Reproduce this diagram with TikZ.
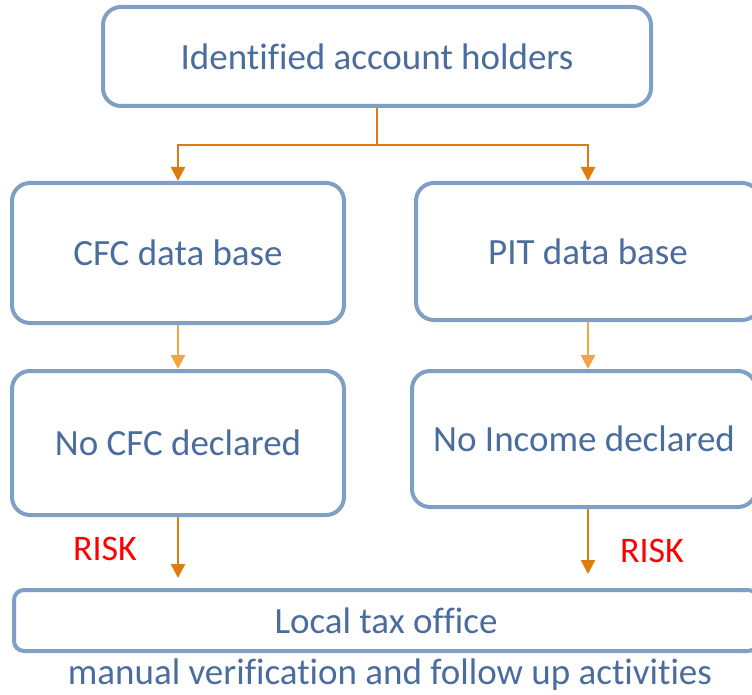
\documentclass[tikz,border=0pt]{standalone}
\usepackage{fontspec}
\setmainfont{Carlito}[Ligatures=NoCommon]
\usetikzlibrary{arrows.meta}
\definecolor{boxline}{HTML}{7F9FC5}
\definecolor{boxtext}{HTML}{4A6D9E}
\definecolor{darkor}{HTML}{E07B10}
\definecolor{lightor}{HTML}{F2A545}
\begin{document}
\begin{tikzpicture}[x=1pt,y=-1pt,
  box/.style={draw=boxline, line width=4pt, rounded corners=18pt, fill=white,
    text=boxtext, font=\fontsize{37}{44}\selectfont, inner sep=0pt},
  darr/.style={draw=darkor, line width=2.5pt, -{Triangle[length=14pt,width=14pt]}},
  larr/.style={draw=lightor, line width=2.5pt, -{Triangle[length=14pt,width=14pt]}},
  risk/.style={text=red, font=\fontsize{36}{43}\selectfont}]
\useasboundingbox (0,0) rectangle (752,695);
\clip (0,0) rectangle (752,695);
\node[box, minimum width=548pt, minimum height=99pt] (top) at (377,56.5) {Identified account holders};
\node[box, minimum width=332pt, minimum height=140pt] (cfc) at (178,253) {CFC data base};
\node[box, minimum width=344pt, minimum height=137pt] (pit) at (588,251.5) {PIT data base};
\node[box, minimum width=332pt, minimum height=144pt] (nocfc) at (178,443) {No CFC declared};
\node[box, minimum width=344pt, minimum height=136pt] (noinc) at (584,439) {No Income declared};
\node[box, rounded corners=10pt, minimum width=744pt, minimum height=61pt] (local) at (386,620.5) {Local tax office};
\node[text=boxtext, font=\fontsize{37}{44}\selectfont] (manual) at (390,675) {manual verification and follow up activities};
\node[risk] (risk1) at (105,549) {RISK};
\node[risk] (risk2) at (652,551) {RISK};
\coordinate (split) at (377,145);
\draw[darkor, line width=2.5pt] (top.south) -- (split);
\draw[darr] (split) -| (cfc.north);
\draw[darr] (split) -| (pit.north);
\draw[larr] (cfc.south) -- (nocfc.north -| cfc.south);
\draw[larr] (pit.south) -- (noinc.north -| pit.south);
\draw[darr] (nocfc.south -| cfc.south) -- ([yshift=10pt]local.north -| cfc.south);
\draw[darr] (noinc.south -| pit.south) -- ([yshift=14pt]local.north -| pit.south);
\end{tikzpicture}
\end{document}
